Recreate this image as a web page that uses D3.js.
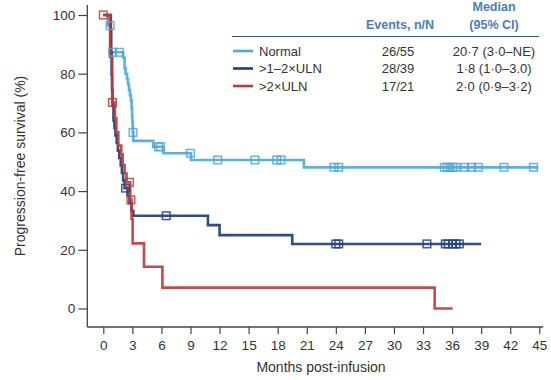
<!DOCTYPE html>
<html>
<head>
<meta charset="utf-8">
<script src="https://cdn.jsdelivr.net/npm/d3@7"></script>
<style>
  html, body { margin: 0; padding: 0; background: #fff; }
  svg { display: block; font-family: "Liberation Sans", Arial, Helvetica, sans-serif; }
</style>
</head>
<body>
<svg id="chart" width="551" height="380"></svg>
<script>
// Kaplan–Meier progression-free survival by LDH group
const groupNames = ["Normal", ">1\u20132\u00d7ULN", ">2\u00d7ULN"];
const groupColors = ["#4ea8dc", "#1f3f78", "#c0393b"];
const eventsText = ["26/55", "28/39", "17/21"];
const medianText = ["20\u00b77 (3\u00b70\u2013NE)", "1\u00b78 (1\u00b70\u20133.0)", "2\u00b70 (0\u00b79\u20133\u00b72)"];

// step times (months) and survival (%) after each step
const normalTime = [0, 0.5, 0.72, 2.05, 2.2, 2.3, 2.45, 2.55, 2.65, 2.75, 2.85, 2.92, 2.97, 3.0, 3.04, 3.1, 5.15, 6.2, 9.05, 20.7];
const normalSurv = [100, 96.4, 87.3, 85.5, 81.8, 80.0, 78.2, 76.4, 74.5, 72.7, 70.9, 68.2, 65.5, 63.6, 60.0, 57.1, 55.1, 52.9, 50.6, 48.1];
const normalEnd = 44.9;
const normalCensor = [0.7, 0.97, 1.65, 3.07, 5.7, 5.9, 9.0, 11.8, 15.65, 17.9, 18.35, 23.8, 24.3, 35.2, 35.5, 35.8, 36.1, 36.4, 37.3, 38.0, 38.7, 41.35, 44.4];

const midTime = [0, 0.78, 0.82, 0.86, 0.9, 0.95, 1.05, 1.15, 1.25, 1.38, 1.5, 1.65, 1.8, 1.92, 2.05, 2.2, 2.5, 2.7, 2.9, 3.1, 10.8, 12.0, 19.5];
const midSurv = [100, 94.9, 87.2, 79.5, 74.4, 69.2, 64.1, 61.5, 59.0, 56.4, 53.8, 51.3, 48.7, 46.2, 43.6, 41.0, 38.5, 35.9, 33.3, 31.6, 28.4, 25.0, 22.0];
const midEnd = 39.0;
const midCensor = [2.3, 6.5, 24.0, 24.3, 33.4, 35.3, 35.6, 36.05, 36.4, 36.75];

const highTime = [0, 0.7, 0.92, 1.2, 1.35, 1.55, 1.85, 2.0, 2.2, 2.4, 2.78, 2.92, 3.03, 4.2, 6.1, 34.2];
const highSurv = [100, 85.7, 70.2, 64.8, 60.0, 55.5, 52.5, 48.9, 46.0, 43.0, 37.0, 30.5, 22.2, 14.2, 7.1, 0];
const highEnd = 36.05;
const highCensor = [0, 0.95, 2.7, 2.85];

const xTicks = d3.range(0, 46, 3);
const yTicks = [0, 20, 40, 60, 80, 100];

const series = [
  { time: normalTime, surv: normalSurv, end: normalEnd, censor: normalCensor },
  { time: midTime, surv: midSurv, end: midEnd, censor: midCensor },
  { time: highTime, surv: highSurv, end: highEnd, censor: highCensor }
];

const svg = d3.select("#chart");
const axisColor = "#444";
const textColor = "#333";

const x = d3.scaleLinear().domain([0, 45]).range([103.3, 539.3]);
const y = d3.scaleLinear().domain([0, 100]).range([308.5, 15]);
const axisY = 327;
const axisX = 87.3;

// axes
const xAxis = svg.append("g").attr("transform", `translate(0,${axisY})`)
  .call(d3.axisBottom(x).tickValues(xTicks).tickSize(7).tickSizeOuter(0).tickPadding(6));
xAxis.select(".domain").remove();
const yAxis = svg.append("g").attr("transform", `translate(${axisX},0)`)
  .call(d3.axisLeft(y).tickValues(yTicks).tickSize(9).tickSizeOuter(0).tickPadding(3));
yAxis.select(".domain").remove();
[xAxis, yAxis].forEach(g => {
  g.selectAll("line").attr("stroke", axisColor).attr("stroke-width", 1.2);
  g.selectAll("text").attr("fill", textColor).style("font-size", "13.5px")
    .style("font-family", "\"Liberation Sans\", Arial, sans-serif");
});

svg.append("line").attr("x1", axisX).attr("x2", axisX).attr("y1", 5).attr("y2", axisY)
  .attr("stroke", axisColor).attr("stroke-width", 1.3);
svg.append("line").attr("x1", axisX).attr("x2", x(45.4)).attr("y1", axisY).attr("y2", axisY)
  .attr("stroke", axisColor).attr("stroke-width", 1.3);

svg.append("text").attr("x", 321).attr("y", 372).attr("text-anchor", "middle")
  .attr("fill", textColor).style("font-size", "14px").text("Months post-infusion");
svg.append("text").attr("transform", "translate(25,166) rotate(-90)").attr("text-anchor", "middle")
  .attr("fill", textColor).style("font-size", "14px").text("Progression-free survival (%)");

// survival curves
const line = d3.line().x(d => x(d.t)).y(d => y(d.s)).curve(d3.curveStepAfter);
function survAt(s, t) {
  let v = s.surv[0];
  for (let i = 0; i < s.time.length; i++) if (s.time[i] <= t) v = s.surv[i];
  return v;
}

series.forEach((s, i) => {
  const pts = s.time.map((t, k) => ({ t, s: s.surv[k] }));
  pts.push({ t: s.end, s: s.surv[s.surv.length - 1] });
  svg.append("path").datum(pts).attr("d", line).attr("fill", "none")
    .attr("stroke", groupColors[i]).attr("stroke-width", 2.6).attr("stroke-opacity", 0.92);
});

series.forEach((s, i) => {
  svg.append("g").selectAll("rect").data(s.censor).join("rect")
    .attr("x", d => x(d) - 3.8).attr("y", d => y(survAt(s, d)) - 3.8)
    .attr("width", 7.6).attr("height", 7.6)
    .attr("fill", "none").attr("stroke", groupColors[i]).attr("stroke-width", 1.5)
    .attr("stroke-opacity", 0.85);
});

// legend table
const headColor = "#4a7dbd";
const headStyle = g => g.attr("fill", headColor).attr("text-anchor", "middle")
  .style("font-size", "12.5px").style("font-weight", "bold");
svg.append("text").attr("x", 494).attr("y", 11).call(headStyle).text("Median");
svg.append("text").attr("x", 494).attr("y", 29).call(headStyle).text("(95% CI)");
svg.append("text").attr("x", 400).attr("y", 29).call(headStyle).text("Events, n/N");
svg.append("line").attr("x1", 232).attr("x2", 539).attr("y1", 36.5).attr("y2", 36.5)
  .attr("stroke", "#35558a").attr("stroke-width", 1);

const rowY = [51, 68.5, 86];
groupNames.forEach((name, i) => {
  svg.append("line").attr("x1", 233).attr("x2", 253).attr("y1", rowY[i]).attr("y2", rowY[i])
    .attr("stroke", groupColors[i]).attr("stroke-width", 2.6);
  svg.append("text").attr("x", 259).attr("y", rowY[i]).attr("dy", "0.35em")
    .attr("fill", textColor).style("font-size", "13px").text(name);
  svg.append("text").attr("x", 398).attr("y", rowY[i]).attr("dy", "0.35em").attr("text-anchor", "middle")
    .attr("fill", textColor).style("font-size", "13px").text(eventsText[i]);
  svg.append("text").attr("x", 494).attr("y", rowY[i]).attr("dy", "0.35em").attr("text-anchor", "middle")
    .attr("fill", textColor).style("font-size", "13px").text(medianText[i]);
});
</script>
</body>
</html>
